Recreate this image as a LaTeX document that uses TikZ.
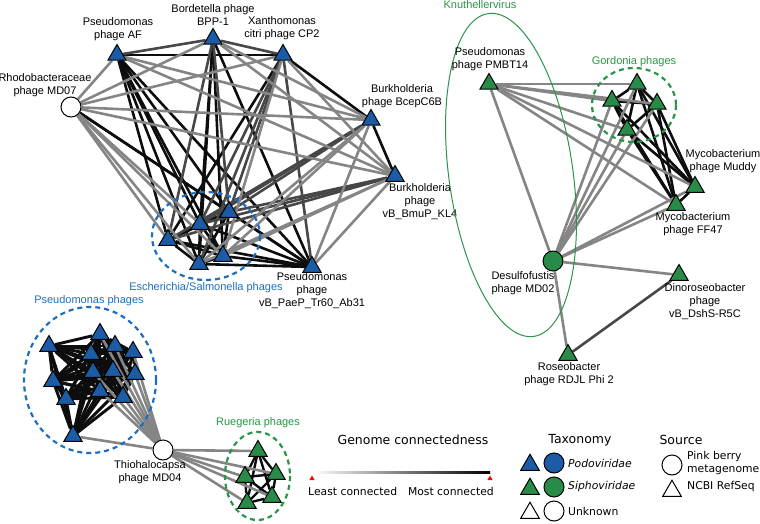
\documentclass[tikz,border=0pt]{standalone}
\usepackage{fontspec}
\setmainfont{Liberation Sans}
\newfontfamily\legendfont{DejaVu Sans}
\usetikzlibrary{shapes.geometric,backgrounds}
\definecolor{podo}{RGB}{28,92,166}
\definecolor{sipho}{RGB}{40,140,72}
\definecolor{podoring}{RGB}{30,110,190}
\definecolor{siphoring}{RGB}{40,150,70}
\tikzset{
  tri/.style={regular polygon, regular polygon sides=3, draw=black, line width=1pt, inner sep=0pt, minimum size=21pt},
  circ/.style={circle, draw=black, line width=1pt, inner sep=0pt, minimum size=20pt},
  lbl/.style={align=center, inner sep=0pt, font=\fontsize{11}{13}\selectfont},
  strong/.style={line width=2.6pt, black!95},
  mid/.style={line width=2.6pt, black!72},
  weak/.style={line width=2.6pt, black!48},
  ring/.style={dash pattern=on 5pt off 4pt, line width=2.2pt},
  legtxt/.style={inner sep=0pt, font=\legendfont\fontsize{10.8}{13.5}\selectfont},
  legtitle/.style={inner sep=0pt, font=\legendfont\fontsize{12.5}{14}\selectfont}
}
\begin{document}
\begin{tikzpicture}[x=10pt,y=-10pt]
      \useasboundingbox (0,0) rectangle (76,52.4);

      \node[circ, fill=white] (md07) at (7.1,10.7) {};
      \node[tri, fill=podo] (af)   at (11.7,5.5) {};
      \node[tri, fill=podo] (bpp)  at (21.3,3.9) {};
      \node[tri, fill=podo] (cp2)  at (28.3,5.5) {};
      \node[tri, fill=podo] (bc6b) at (37.1,12.0) {};
      \node[tri, fill=podo] (kl4)  at (39.5,17.6) {};
      \node[tri, fill=podo] (tr60) at (31.2,26.7) {};
      \node[tri, fill=podo] (e1)   at (16.8,24.0) {};
      \node[tri, fill=podo] (e2)   at (20.0,22.4) {};
      \node[tri, fill=podo] (e3)   at (22.9,21.2) {};
      \node[tri, fill=podo] (e4)   at (19.9,26.4) {};
      \node[tri, fill=podo] (e5)   at (22.3,25.6) {};

      \node[lbl] (lMD07) at (4.5,8.55)  {Rhodobacteraceae\\phage MD07};
      \node[lbl] (lAF)   at (11.8,2.9)  {Pseudomonas\\phage AF};
      \node[lbl] (lBPP)  at (21.3,1.55) {Bordetella phage\\BPP-1};
      \node[lbl] (lCP2)  at (28.2,2.85) {Xanthomonas\\citri phage CP2};
      \node[lbl] (lBC6B) at (40.2,9.65) {Burkholderia\\phage BcepC6B};
      \node[lbl] (lKL4)  at (42.0,20.2) {Burkholderia\\phage\\vB\_BmuP\_KL4};
      \node[lbl] (lTR60) at (31.2,29.1) {Pseudomonas\\phage\\vB\_PaeP\_Tr60\_Ab31};
      \node[lbl, text=podoring] (lESCH) at (20.6,28.8) {Escherichia/Salmonella phages};
      \draw[ring, podoring] (20.6,23.6) ellipse [x radius=5.4, y radius=4.4];

      \node[tri, fill=sipho] (pm)  at (48.9,8.4) {};
      \node[tri, fill=sipho] (g1)  at (63.7,8.4) {};
      \node[tri, fill=sipho] (g2)  at (61.2,10.1) {};
      \node[tri, fill=sipho] (g3)  at (65.7,10.4) {};
      \node[tri, fill=sipho] (g4)  at (62.7,13.0) {};
      \node[tri, fill=sipho] (mud) at (69.5,18.7) {};
      \node[tri, fill=sipho] (ff)  at (67.6,20.5) {};
      \node[circ, fill=sipho] (md02) at (55.3,26.1) {};
      \node[tri, fill=sipho] (dino) at (67.9,27.5) {};
      \node[tri, fill=sipho] (rose) at (56.8,35.5) {};

      \node[lbl, text=siphoring] (lKNUTH) at (48.0,0.5) {Knuthellervirus};
      \draw[siphoring, line width=1pt, rotate around={8:(51.1,17.5)}] (51.1,17.5) ellipse [x radius=6.2, y radius=16.3];
      \node[lbl] (lPM)   at (49.0,5.95) {Pseudomonas\\phage PMBT14};
      \node[lbl, text=siphoring] (lGORD) at (63.4,6.2) {Gordonia phages};
      \draw[ring, siphoring] (63.4,10.5) ellipse [x radius=4.2, y radius=3.7];
      \node[lbl] (lMUD)  at (72.3,16.1) {Mycobacterium\\phage Muddy};
      \node[lbl] (lFF)   at (69.3,22.4) {Mycobacterium\\phage FF47};
      \node[lbl] (lMD02) at (52.3,28.3) {Desulfofustis\\phage MD02};
      \node[lbl] (lDINO) at (70.5,30.2) {Dinoroseobacter\\phage\\vB\_DshS-R5C};
      \node[lbl] (lROSE) at (56.9,37.45) {Roseobacter\\phage RDJL Phi 2};

      \node[tri, fill=podo] (p1)  at (4.9,34.6) {};
      \node[tri, fill=podo] (p2)  at (10.0,33.4) {};
      \node[tri, fill=podo] (p3)  at (11.5,34.6) {};
      \node[tri, fill=podo] (p4)  at (13.3,35.2) {};
      \node[tri, fill=podo] (p5)  at (9.1,35.4) {};
      \node[tri, fill=podo] (p6)  at (5.3,38.1) {};
      \node[tri, fill=podo] (p7)  at (9.3,37.2) {};
      \node[tri, fill=podo] (p8)  at (11.3,37.1) {};
      \node[tri, fill=podo] (p9)  at (13.5,37.4) {};
      \node[tri, fill=podo] (p10) at (10.0,39.1) {};
      \node[tri, fill=podo] (p11) at (6.6,39.9) {};
      \node[tri, fill=podo] (p12) at (12.3,39.7) {};
      \node[tri, fill=podo] (p13) at (7.3,43.6) {};
      \node[circ, fill=white] (thio) at (16.3,45.0) {};
      \node[tri, fill=sipho] (r1) at (25.8,45.1) {};
      \node[tri, fill=sipho] (r2) at (24.5,47.7) {};
      \node[tri, fill=sipho] (r3) at (27.6,47.4) {};
      \node[tri, fill=sipho] (r4) at (27.2,49.7) {};
      \node[tri, fill=sipho] (r5) at (24.7,50.3) {};

      \node[lbl, text=podoring] (lPSEU) at (8.9,30.1) {Pseudomonas phages};
      \draw[ring, podoring] (9.0,38.0) ellipse [x radius=6.6, y radius=7.3];
      \node[lbl] (lTHIO) at (15.0,47.2) {Thiohalocapsa\\phage MD04};
      \node[lbl, text=siphoring] (lRUEG) at (25.8,42.3) {Ruegeria phages};
      \draw[ring, siphoring] (25.75,47.6) ellipse [x radius=3.25, y radius=4.4];

      \begin{scope}[on background layer]
        \foreach \a/\b in {e1/e2,e1/e3,e1/e4,e1/e5,e2/e3,e2/e4,e2/e5,e3/e4,e3/e5,e4/e5,
                           tr60/e1,tr60/e2,tr60/e3,tr60/e4,tr60/e5,af/e1,af/e2,af/e3,af/e4,af/e5,
                           bpp/e2,bpp/e4,bpp/e5,af/cp2,af/tr60,bpp/tr60,cp2/bc6b,bc6b/kl4,md07/tr60,md07/e3,cp2/e1}
          \draw[strong] (\a) -- (\b);
        \foreach \a/\b in {af/bpp,bpp/cp2,cp2/e2,cp2/e3,cp2/e4,cp2/tr60,bpp/e1,bpp/e3,kl4/e1,kl4/e2,kl4/e3,
                           bc6b/e2,bc6b/e3,bc6b/e1}
          \draw[mid] (\a) -- (\b);
        \foreach \a/\b in {md07/af,md07/bpp,md07/cp2,md07/bc6b,md07/kl4,md07/e1,md07/e2,md07/e4,md07/e5,
                           af/bc6b,af/kl4,bpp/bc6b,bpp/kl4,cp2/kl4,bc6b/tr60,kl4/tr60,cp2/e5,kl4/e4,kl4/e5,bc6b/e4,bc6b/e5}
          \draw[weak] (\a) -- (\b);

        \foreach \a/\b in {g1/g2,g1/g3,g1/g4,g2/g3,g2/g4,g3/g4,g1/mud,g1/ff,g2/mud,g2/ff,g3/mud,g3/ff,
                           g4/mud,g4/ff,mud/ff}
          \draw[strong] (\a) -- (\b);
        \draw[mid] (rose) -- (dino);
        \foreach \a/\b in {pm/g1,pm/g2,pm/g3,pm/g4,pm/mud,pm/ff,pm/md02,md02/g1,md02/g2,md02/g3,md02/g4,
                           md02/mud,md02/ff,md02/dino,md02/rose}
          \draw[weak] (\a) -- (\b);

        \foreach \i in {1,...,12}{
          \pgfmathtruncatemacro\k{\i+1}
          \foreach \j in {\k,...,13}
            \draw[strong, line width=2.9pt] (p\i) -- (p\j);
        }
        \foreach \a/\b in {r1/r2,r1/r3,r1/r4,r1/r5,r2/r3,r2/r4,r2/r5,r3/r4,r3/r5,r4/r5}
          \draw[strong, line width=2.4pt] (\a) -- (\b);
        \foreach \b in {p2,p3,p4,p7,p8,p9,p10,p12,p13,r1,r2,r3,r4,r5}
          \draw[weak] (thio) -- (\b);
      \end{scope}

      \node[legtitle] (tGENOME) at (41.3,44.0) {Genome connectedness};
      \node[legtitle] (tTAXO)   at (58.0,44.0) {Taxonomy};
      \node[legtitle] (tSRC)    at (68.1,44.0) {Source};
      \shade[left color=white, right color=black] (31.2,47.17) rectangle (49.0,47.37);
      \node[regular polygon, regular polygon sides=3, fill=red, inner sep=0pt, minimum size=6pt] (mkLeast) at (31.2,47.85) {};
      \node[regular polygon, regular polygon sides=3, fill=red, inner sep=0pt, minimum size=6pt] (mkMost)  at (49.0,47.85) {};
      \node[legtxt, anchor=west] (tLEAST) at (30.8,49.1) {Least connected};
      \node[legtxt, anchor=east] (tMOST)  at (49.4,49.1) {Most connected};

      \node[tri, fill=podo, minimum size=21.5pt] (kPodoT) at (53.0,46.5) {};
      \node[circ, fill=podo, minimum size=20pt] (kPodoC) at (55.4,46.3) {};
      \node[legtxt, anchor=west] (tPODO) at (56.8,46.3) {\itshape Podoviridae};
      \node[tri, fill=sipho, minimum size=21.5pt] (kSiphoT) at (53.0,48.9) {};
      \node[circ, fill=sipho, minimum size=20pt] (kSiphoC) at (55.4,48.7) {};
      \node[legtxt, anchor=west] (tSIPHO) at (56.8,48.7) {\itshape Siphoviridae};
      \node[tri, fill=white, minimum size=21.5pt] (kUnkT) at (53.0,51.3) {};
      \node[circ, fill=white, minimum size=20pt] (kUnkC) at (55.4,51.1) {};
      \node[legtxt, anchor=west] (tUNK) at (56.8,51.1) {Unknown};

      \node[circ, fill=white, minimum size=20pt] (kPink) at (67.2,46.5) {};
      \node[legtxt, anchor=west, align=left] (tPINK) at (68.7,46.3) {Pink berry\\metagenome};
      \node[tri, fill=white, minimum size=21.5pt] (kNcbi) at (67.2,49.1) {};
      \node[legtxt, anchor=west] (tNCBI) at (68.7,48.7) {NCBI RefSeq};
\end{tikzpicture}
\end{document}
